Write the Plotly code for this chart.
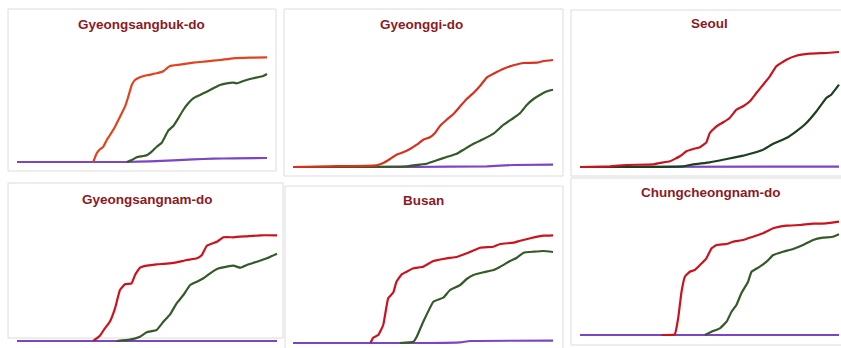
import plotly.graph_objs as go

# ---- data: day index (0-100 of the period) and cumulative level per region ----
titles = ["Gyeongsangbuk-do", "Gyeonggi-do", "Seoul",
          "Gyeongsangnam-do", "Busan", "Chungcheongnam-do"]

gb_red_x = [30.5, 31.9, 33.2, 34.5, 35.9, 37.2, 39.2, 41.2, 43.2, 44.5, 45.9, 47.2, 49.2, 51.9, 55.9, 58.5, 59.9, 61.2, 65.2, 70.5, 75.9, 81.2, 86.5, 93.2, 100]
gb_red_y = [0, 8.7, 12.7, 15.3, 22, 27, 35.3, 45.3, 55.3, 65.3, 77, 82, 84.7, 86.7, 88.7, 90.7, 93.7, 96, 97.3, 99.3, 100.7, 102, 103.7, 104.3, 104.7]
gb_green_x = [43.9, 45.9, 47.9, 51.9, 53.9, 55.9, 57.9, 59.2, 60.5, 62.5, 64.5, 66.5, 68.5, 70.5, 73.2, 75.9, 78.5, 81.2, 83.9, 86.5, 87.9, 90.5, 94.5, 98.5, 100]
gb_green_y = [0, 2, 4.7, 6.7, 10.3, 15.3, 19.3, 25.3, 31.3, 36, 43.7, 52, 58.7, 63.7, 67, 70.3, 73.7, 77, 78.7, 79.3, 78.7, 81, 83.7, 86, 88]
gb_purple_x = [0, 43.9, 53.2, 62.5, 70.5, 78.5, 86.5, 100]
gb_purple_y = [0, 0, 0.7, 1.7, 2.7, 3.3, 3.7, 4]

gg_red_x = [0, 14.1, 32.1, 34.7, 37.3, 39.8, 42.4, 45, 47.6, 50.1, 52.7, 54.6, 56.6, 59.1, 61.7, 64.3, 66.8, 69.4, 72, 74.6, 77.1, 81, 84.8, 88.7, 93.8, 96.4, 100]
gg_red_y = [0, 0.7, 1.7, 4, 8, 12.3, 14.7, 18, 22.3, 27.3, 29.7, 34, 41.3, 47.3, 53, 60.7, 68, 74, 81.3, 89.7, 93.3, 98.3, 101.7, 104, 104.3, 106, 107]
gg_green_x = [0, 43.7, 48.8, 51.4, 55.3, 59.1, 63, 65.6, 69.4, 73.3, 77.1, 81, 84.8, 87.4, 90, 92.5, 95.1, 97.7, 100]
gg_green_y = [0, 0.7, 2.3, 3.3, 6.7, 10, 13.3, 17.3, 23.3, 28, 33.3, 42.3, 49, 54, 62.3, 68, 72.3, 75.7, 77.3]
gg_purple_x = [0, 46.3, 74.6, 84.8, 100]
gg_purple_y = [0, 0, 0.7, 2, 2.3]

se_red_x = [0, 11.6, 18, 28.3, 30.8, 34.7, 38.6, 41.1, 43.7, 46.3, 48.8, 50.1, 52.7, 55.3, 57.8, 60.4, 63, 65.6, 68.1, 70.7, 73.3, 75.8, 79.7, 83.5, 88.7, 95.1, 100]
se_red_y = [0, 0.7, 2, 2.7, 4, 5.7, 10.7, 15.7, 18, 19.7, 24.7, 34, 40.7, 44.7, 49, 57.3, 60.7, 65.7, 74, 82.3, 90.7, 100.7, 107.3, 111.3, 113.3, 114, 115]
se_green_x = [0, 39.8, 43.7, 50.1, 56.6, 63, 66.8, 70.7, 74.6, 79.7, 83.5, 87.4, 91.3, 95.1, 97, 100]
se_green_y = [0, 0.7, 2.7, 4.7, 8, 11.3, 14, 17.3, 23.3, 29, 35.7, 44, 55.7, 69, 72.3, 82.3]
se_purple_x = [0, 100]
se_purple_y = [0, 0.4]

gn_red_x = [29.3, 31.9, 33.8, 35.7, 37.7, 39.6, 41.5, 44.1, 45.4, 47.3, 49.9, 53.7, 57.6, 61.4, 65.3, 69.2, 71.1, 73, 76.9, 79.4, 83.3, 88.4, 93.6, 100]
gn_red_y = [0, 5.3, 12.7, 19.3, 32.7, 51, 56.7, 57.7, 66, 73.3, 75.3, 76.7, 77.3, 78.7, 81, 82.7, 86, 95.3, 99.3, 103.7, 103.7, 104.7, 105.7, 105.7]
gn_green_x = [38.3, 43.4, 47.3, 49.9, 53.7, 56.3, 58.9, 61.4, 64, 66.6, 69.2, 71.7, 74.3, 76.9, 80.7, 83.3, 85.9, 88.4, 92.3, 96.1, 100]
gn_green_y = [0, 1.3, 4.3, 8.7, 11, 19.3, 26.7, 37.7, 46, 56, 59.3, 62.7, 67.7, 72, 74.3, 75.3, 73.3, 76, 79.3, 82.7, 87.3]
gn_purple_x = [0, 100]
gn_purple_y = [0, 0]

bs_red_x = [29.8, 30.8, 32.8, 34.7, 36.6, 38.6, 39.8, 41.8, 43.7, 46.3, 50.1, 54, 59.1, 63, 66.8, 72, 77.1, 79.7, 84.8, 87.4, 91.3, 96.4, 100]
bs_red_y = [0, 5.3, 8, 18, 44.7, 50.7, 61.3, 68.7, 71.3, 74.7, 76.3, 82, 84.7, 86, 89.7, 95.3, 96.3, 99, 100.3, 102.3, 104.7, 107.3, 107.7]
bs_green_x = [41.1, 46.3, 47.6, 50.1, 54, 57.8, 60.4, 64.3, 66.8, 69.4, 73.3, 77.1, 79.7, 83.5, 86.1, 88.7, 92.5, 96.4, 100]
bs_green_y = [0, 1.3, 6.3, 21.3, 41.3, 45.3, 53, 58, 64, 68, 70.7, 73, 76.3, 82, 85.3, 90.3, 91.3, 92, 91]
bs_purple_x = [0, 51.4, 64.3, 68.1, 100]
bs_purple_y = [0, 0, 0.7, 2, 2.3]

cn_red_x = [31.5, 36.6, 37.9, 39.2, 40.5, 42.4, 44.3, 46.3, 48.8, 50.8, 52.7, 56.6, 59.1, 63, 66.8, 70.7, 74.6, 79.7, 84.8, 90, 95.1, 100]
cn_red_y = [0, 0.7, 16.7, 43.3, 58.3, 63.3, 65, 70, 76.7, 86.7, 90, 91, 93.3, 95, 98.3, 101.7, 106.7, 109.3, 110, 111.3, 111.7, 113.3]
cn_green_x = [48.2, 50.8, 54, 56.6, 58.5, 60.4, 62.3, 64.9, 66.2, 69.4, 72, 74.6, 78.4, 82.3, 86.1, 90, 93.8, 97.7, 100]
cn_green_y = [0, 3.3, 6.7, 13.3, 23.3, 30, 41.7, 53.3, 63.3, 68.3, 73.3, 80, 83.3, 86, 90, 95, 97.3, 98.3, 100.7]
cn_purple_x = [0, 100]
cn_purple_y = [0, 0]

series = [
    (gb_purple_x, gb_purple_y, gb_green_x, gb_green_y, gb_red_x, gb_red_y),
    (gg_purple_x, gg_purple_y, gg_green_x, gg_green_y, gg_red_x, gg_red_y),
    (se_purple_x, se_purple_y, se_green_x, se_green_y, se_red_x, se_red_y),
    (gn_purple_x, gn_purple_y, gn_green_x, gn_green_y, gn_red_x, gn_red_y),
    (bs_purple_x, bs_purple_y, bs_green_x, bs_green_y, bs_red_x, bs_red_y),
    (cn_purple_x, cn_purple_y, cn_green_x, cn_green_y, cn_red_x, cn_red_y),
]

# ---- layout in pixels (841x348 canvas) ----
W, H = 841, 348
# line start x, line end x, baseline y
plot_px = [(17, 267, 162), (293, 553, 167), (580, 839, 167),
           (17, 277, 341), (293, 553, 343), (580, 839, 335)]
# panel frames x0, x1, y0, y1
frames = [(8, 276, 9, 171), (284, 563, 9, 176), (571, 846, 10, 176),
          (8, 283, 183, 338), (285, 563, 186, 352), (571, 846, 178, 345)]
title_pos = [(141, 24), (422, 24), (709, 23), (147, 199), (423, 200), (710, 192)]
red_colors = ["#e2421c", "#d8321e", "#c8141f", "#cc121d", "#cc121d", "#cc121d"]
green_colors = ["#355a2a", "#355a2a", "#1c3f1e", "#355a2a", "#355a2a", "#355a2a"]
purple = "#7b45c4"
title_color = "#8c1a26"

fig = go.Figure()
shapes = []
annotations = []
pad = 3
top_h = 120

for i in range(6):
    xs, xe, base = plot_px[i]
    unit = 100.0 / (xe - xs)
    d0 = max(0, xs - pad)
    d1 = min(W, xe + pad)
    d_bot = min(H, base + pad)
    n = "" if i == 0 else str(i + 1)
    fig.layout["xaxis" + n] = dict(
        domain=[d0 / W, d1 / W],
        range=[(d0 - xs) * unit, (d1 - xs) * unit],
        visible=False, fixedrange=True)
    fig.layout["yaxis" + n] = dict(
        domain=[1 - d_bot / H, 1 - (base - top_h) / H],
        range=[base - d_bot, top_h],
        visible=False, fixedrange=True)
    px_, py_, gx, gy, rx, ry = series[i]
    for x, y, c in [(px_, py_, purple), (gx, gy, green_colors[i]), (rx, ry, red_colors[i])]:
        fig.add_trace(go.Scatter(x=x, y=y, mode="lines",
                                 line=dict(color=c, width=2.2, shape="spline", smoothing=0.3),
                                 xaxis="x" + n, yaxis="y" + n, showlegend=False,
                                 hoverinfo="skip"))
    fx0, fx1, fy0, fy1 = frames[i]
    shapes.append(dict(type="rect", xref="paper", yref="paper",
                       x0=fx0 / W, x1=fx1 / W, y0=1 - fy1 / H, y1=1 - fy0 / H,
                       line=dict(color="#dcdcdc", width=1), layer="below"))
    tx, ty = title_pos[i]
    annotations.append(dict(text="<b>%s</b>" % titles[i], xref="paper", yref="paper",
                            x=tx / W, y=1 - ty / H, xanchor="center", yanchor="middle",
                            showarrow=False,
                            font=dict(family="Liberation Sans, Arial, sans-serif",
                                      size=13.5, color=title_color)))

fig.update_layout(width=W, height=H, margin=dict(l=0, r=0, t=0, b=0),
                  paper_bgcolor="white", plot_bgcolor="rgba(0,0,0,0)",
                  shapes=shapes, annotations=annotations, showlegend=False)

fig.write_html("out.html", config=dict(displayModeBar=False),
               post_script="document.body.style.margin='0';document.body.style.overflow='hidden';")
